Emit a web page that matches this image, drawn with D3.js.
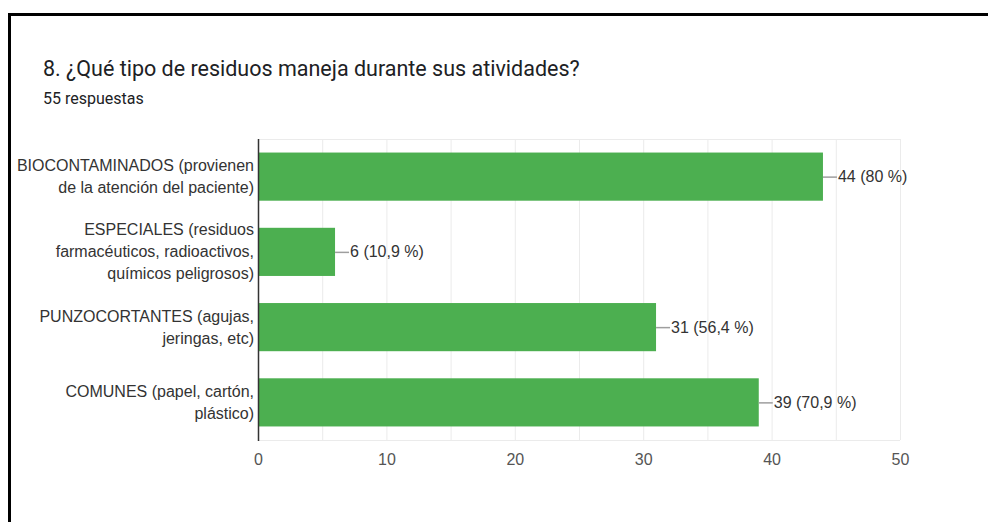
<!DOCTYPE html>
<html>
<head>
<meta charset="utf-8">
<script src="https://cdn.jsdelivr.net/npm/d3@7"></script>
<style>
  html, body { margin: 0; padding: 0; background: #fff; }
  svg { display: block; }
</style>
</head>
<body>
<svg id="chart" width="988" height="522"></svg>
<script>
// Survey question and response count
const title = "8. ¿Qué tipo de residuos maneja durante sus atividades?";
const subtitle = "55 respuestas";

// Category labels, one entry per wrapped line
const categories = [
  ["BIOCONTAMINADOS (provienen", "de la atención del paciente)"],
  ["ESPECIALES (residuos", "farmacéuticos, radioactivos,", "químicos peligrosos)"],
  ["PUNZOCORTANTES (agujas,", "jeringas, etc)"],
  ["COMUNES (papel, cartón,", "plástico)"]
];
const counts = [44, 6, 31, 39];
const percents = ["80 %", "10,9 %", "56,4 %", "70,9 %"];
const xTicks = [0, 10, 20, 30, 40, 50];

const svg = d3.select("#chart");

// Outer frame (top and left edges)
svg.append("line").attr("x1", 9).attr("x2", 988).attr("y1", 14.5).attr("y2", 14.5)
  .attr("stroke", "#000").attr("stroke-width", 3);
svg.append("line").attr("x1", 9.5).attr("x2", 9.5).attr("y1", 13).attr("y2", 522)
  .attr("stroke", "#000").attr("stroke-width", 3);

// Heading
svg.append("text").attr("x", 43).attr("y", 76)
  .attr("font-family", "Roboto, sans-serif").attr("font-size", 21.5)
  .attr("fill", "#202124").text(title);
svg.append("text").attr("x", 43).attr("y", 104)
  .attr("font-family", "Roboto, sans-serif").attr("font-size", 16)
  .attr("fill", "#202124").text(subtitle);

// Plot area
const plotL = 258, plotR = 900, plotT = 139, plotB = 440;
const x = d3.scaleLinear().domain([0, 50]).range([plotL, plotR]);
const idx = d3.range(categories.length);
const y = d3.scaleBand().domain(idx).range([plotT, plotB]).paddingInner(0.36).paddingOuter(0.18);

// Gridlines every 5 units
svg.append("g").selectAll("line").data(d3.range(5, 51, 5)).join("line")
  .attr("x1", d => x(d) + 0.5).attr("x2", d => x(d) + 0.5)
  .attr("y1", plotT).attr("y2", plotB)
  .attr("stroke", "#ebebeb").attr("stroke-width", 1);
svg.append("line").attr("x1", plotL).attr("x2", plotR)
  .attr("y1", plotT + 0.5).attr("y2", plotT + 0.5).attr("stroke", "#ebebeb");
svg.append("line").attr("x1", plotL).attr("x2", plotR)
  .attr("y1", plotB + 0.5).attr("y2", plotB + 0.5).attr("stroke", "#ebebeb");

// Bars
svg.append("g").selectAll("rect").data(idx).join("rect")
  .attr("x", x(0)).attr("y", i => y(i))
  .attr("width", i => x(counts[i]) - x(0)).attr("height", y.bandwidth())
  .attr("fill", "#4caf50");

// Value annotations with leader lines
const ann = svg.append("g").selectAll("g").data(idx).join("g")
  .attr("transform", i => `translate(${x(counts[i])},${y(i) + y.bandwidth() / 2})`);
ann.append("line").attr("x1", 0).attr("x2", 14).attr("y1", 0.5).attr("y2", 0.5)
  .attr("stroke", "#9e9e9e").attr("stroke-width", 1.5);
ann.append("text").attr("x", 15).attr("dy", "0.35em")
  .attr("font-family", "Liberation Sans, Arial, sans-serif").attr("font-size", 16)
  .attr("fill", "#333").text(i => `${counts[i]} (${percents[i]})`);

// Category labels
const lineH = 22;
const lab = svg.append("g").selectAll("text").data(idx).join("text")
  .attr("text-anchor", "end")
  .attr("font-family", "Liberation Sans, Arial, sans-serif").attr("font-size", 16)
  .attr("fill", "#333");
lab.each(function(i) {
  const lines = categories[i];
  const cy = y(i) + y.bandwidth() / 2;
  const t = d3.select(this);
  lines.forEach((s, k) => {
    t.append("tspan").attr("x", 254)
      .attr("y", cy + (k - (lines.length - 1) / 2) * lineH)
      .attr("dy", "0.35em").text(s);
  });
});

// X axis tick labels
const xAxis = d3.axisBottom(x).tickValues(xTicks).tickSize(0).tickPadding(14);
const gx = svg.append("g").attr("transform", `translate(0,${plotB})`).call(xAxis);
gx.select(".domain").remove();
gx.selectAll("text").attr("font-family", "Liberation Sans, Arial, sans-serif")
  .attr("font-size", 16).attr("fill", "#555");

// Baseline at zero
svg.append("line").attr("x1", plotL + 0.5).attr("x2", plotL + 0.5)
  .attr("y1", plotT).attr("y2", plotB + 1)
  .attr("stroke", "#333").attr("stroke-width", 1.5);
</script>
</body>
</html>
